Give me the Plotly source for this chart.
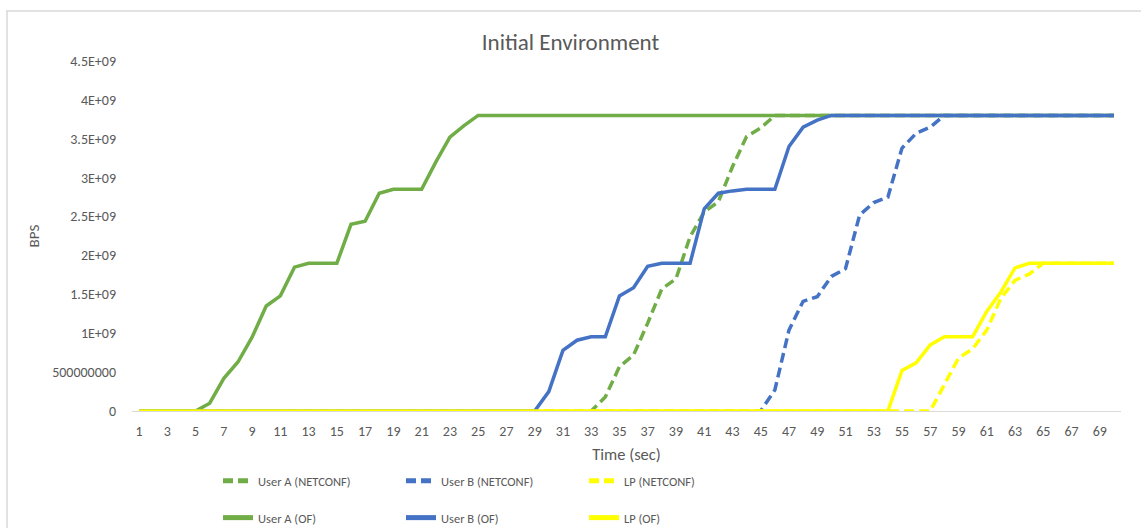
import plotly.graph_objects as go

time_sec = list(range(1, 71))

user_a_of = ([0] * 5 + [0.10e9, 0.42e9, 0.63e9, 0.95e9, 1.35e9, 1.48e9, 1.85e9, 1.90e9, 1.90e9, 1.90e9,
              2.40e9, 2.44e9, 2.80e9, 2.85e9, 2.85e9, 2.85e9, 3.20e9, 3.52e9, 3.67e9] + [3.80e9] * 46)
user_b_of = ([0] * 29 + [0.25e9, 0.78e9, 0.91e9, 0.955e9, 0.955e9, 1.48e9, 1.585e9, 1.86e9, 1.90e9, 1.90e9,
                        1.90e9, 2.60e9, 2.80e9, 2.83e9, 2.85e9, 2.85e9, 2.85e9, 3.40e9, 3.65e9, 3.74e9] + [3.80e9] * 21)
lp_of = ([0] * 54 + [0.52e9, 0.62e9, 0.85e9, 0.955e9, 0.955e9, 0.955e9, 1.28e9, 1.53e9, 1.84e9] + [1.90e9] * 7)

user_a_netconf = ([0] * 33 + [0.18e9, 0.57e9, 0.72e9, 1.13e9, 1.57e9, 1.70e9, 2.24e9, 2.56e9, 2.69e9, 3.14e9,
                             3.53e9, 3.64e9] + [3.80e9] * 25)
user_b_netconf = ([0] * 45 + [0.27e9, 1.04e9, 1.41e9, 1.47e9, 1.73e9, 1.83e9, 2.52e9, 2.68e9, 2.75e9, 3.38e9,
                             3.57e9, 3.65e9] + [3.80e9] * 13)
lp_netconf = ([0] * 57 + [0.34e9, 0.68e9, 0.80e9, 1.04e9, 1.45e9, 1.68e9, 1.76e9] + [1.90e9] * 6)

x_tick_vals = list(range(1, 70, 2))
y_tick_vals = [0, 0.5e9, 1e9, 1.5e9, 2e9, 2.5e9, 3e9, 3.5e9, 4e9, 4.5e9]
y_tick_text = ["0", "500000000", "1E+09", "1.5E+09", "2E+09", "2.5E+09", "3E+09", "3.5E+09", "4E+09", "4.5E+09"]

GREEN = "#70AD47"
BLUE = "#4472C4"
YELLOW = "#FFFF00"
FONT = "Calibri, Carlito, Lato, sans-serif"
TXT = "#595959"
LW = 3.5
DASH = "10px,5px"

fig = go.Figure()
series = [
    ("User A (NETCONF)", user_a_netconf, GREEN, DASH, "legend"),
    ("User B (NETCONF)", user_b_netconf, BLUE, DASH, "legend"),
    ("LP (NETCONF)", lp_netconf, YELLOW, DASH, "legend"),
    ("User A (OF)", user_a_of, GREEN, "solid", "legend2"),
    ("User B (OF)", user_b_of, BLUE, "solid", "legend2"),
    ("LP (OF)", lp_of, YELLOW, "solid", "legend2"),
]
for name, vals, col, dash, leg in series:
    fig.add_trace(go.Scatter(x=time_sec, y=vals, mode="lines", name=name,
                             line=dict(color=col, width=LW, dash=dash), legend=leg))

W, H = 1141, 528
L, R, T, B = 132, 20, 61, 117
pw, ph = W - L - R, H - T - B

def px_x(p):
    return (p - L) / pw

def px_y(p):
    return (H - B - p) / ph

legend_common = dict(orientation="h", xanchor="left", yanchor="middle",
                     font=dict(family=FONT, size=12.5, color=TXT),
                     entrywidth=138, entrywidthmode="pixels", bgcolor="rgba(0,0,0,0)",
                     tracegroupgap=0, itemsizing="constant")

fig.update_layout(
    width=W, height=H,
    margin=dict(l=L, r=R, t=T, b=B, autoexpand=False),
    paper_bgcolor="white", plot_bgcolor="white",
    font=dict(family=FONT, size=13, color=TXT),
    title=dict(text="Initial Environment", x=0.5, xanchor="center", xref="container",
               y=1 - 42 / H, yanchor="middle", yref="container",
               font=dict(family=FONT, size=23, color=TXT)),
    xaxis=dict(range=[0.5, 70.5], tickvals=x_tick_vals, ticktext=[str(v) for v in x_tick_vals],
               showgrid=False, zeroline=False, showline=True, linecolor="#D9D9D9", linewidth=1,
               ticks="", ticklabelstandoff=7, tickfont=dict(family=FONT, size=14, color=TXT),
               title=dict(text="Time (sec)", font=dict(family=FONT, size=16.5, color=TXT), standoff=9),
               fixedrange=True),
    yaxis=dict(range=[0, 4.5e9], tickvals=y_tick_vals, ticktext=y_tick_text,
               showgrid=False, zeroline=False, showline=False,
               ticks="", ticklabelstandoff=15, tickfont=dict(family=FONT, size=14, color=TXT),
               title=dict(text="BPS", font=dict(family=FONT, size=15, color=TXT), standoff=8),
               fixedrange=True),
    legend=dict(x=px_x(218), y=px_y(481), **legend_common),
    legend2=dict(x=px_x(218), y=px_y(518), **legend_common),
    shapes=[dict(type="rect", xref="paper", yref="paper",
                 x0=px_x(7), x1=px_x(1160), y0=px_y(11), y1=px_y(545),
                 line=dict(color="#D9D9D9", width=1.5), fillcolor="rgba(0,0,0,0)", layer="below")],
    showlegend=True,
)

fig.write_html("out.html", config={"displayModeBar": False},
               post_script="document.body.style.margin='0';")
